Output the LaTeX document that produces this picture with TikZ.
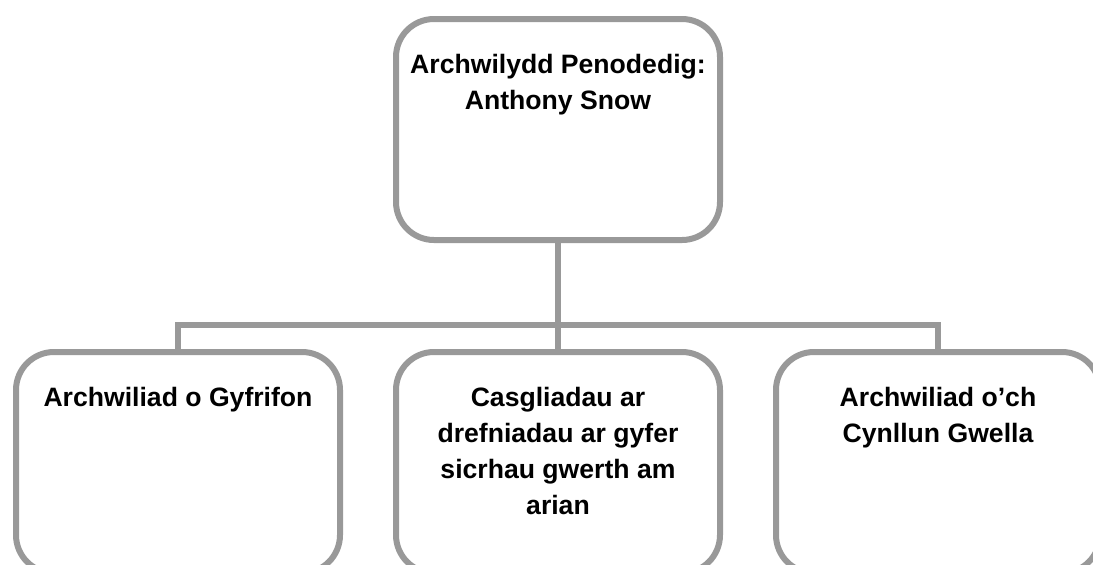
\documentclass[tikz,border=0pt]{standalone}
\usepackage{fontspec}
\setmainfont{Liberation Sans}
\definecolor{boxgray}{RGB}{153,153,153}

\begin{document}
\begin{tikzpicture}[x=0.5pt,y=-0.5pt,
  box/.style={draw=boxgray,line width=3pt,rounded corners=19pt,fill=white,
    anchor=north,inner sep=0pt,minimum width=162pt,
    text height=27pt,text depth=83.5pt,
    font=\fontsize{13.3pt}{18pt}\selectfont\bfseries},
  link/.style={draw=boxgray,line width=3pt}]
  \useasboundingbox (0,0) rectangle (1093,564);
  \clip (0,0) rectangle (1093,564);

  \coordinate (bus) at (558,325);
  \node[box] (auditor) at (558,16) {\parbox[t]{160pt}{\centering Archwilydd Penodedig:\\ Anthony Snow}};
  \node[box] (accounts) at (178,349) {\parbox[t]{160pt}{\centering Archwiliad o Gyfrifon}};
  \node[box] (money) at (558,349) {\parbox[t]{160pt}{\centering Casgliadau ar\\ drefniadau ar gyfer\\ sicrhau gwerth am\\ arian}};
  \node[box] (plan) at (938,349) {\parbox[t]{160pt}{\centering Archwiliad o’ch\\ Cynllun Gwella}};

  \draw[link] (auditor.south) -- (bus);
  \draw[link] (bus) -- (money.north);
  \draw[link] (bus) -| (accounts.north);
  \draw[link] (bus) -| (plan.north);
\end{tikzpicture}
\end{document}
